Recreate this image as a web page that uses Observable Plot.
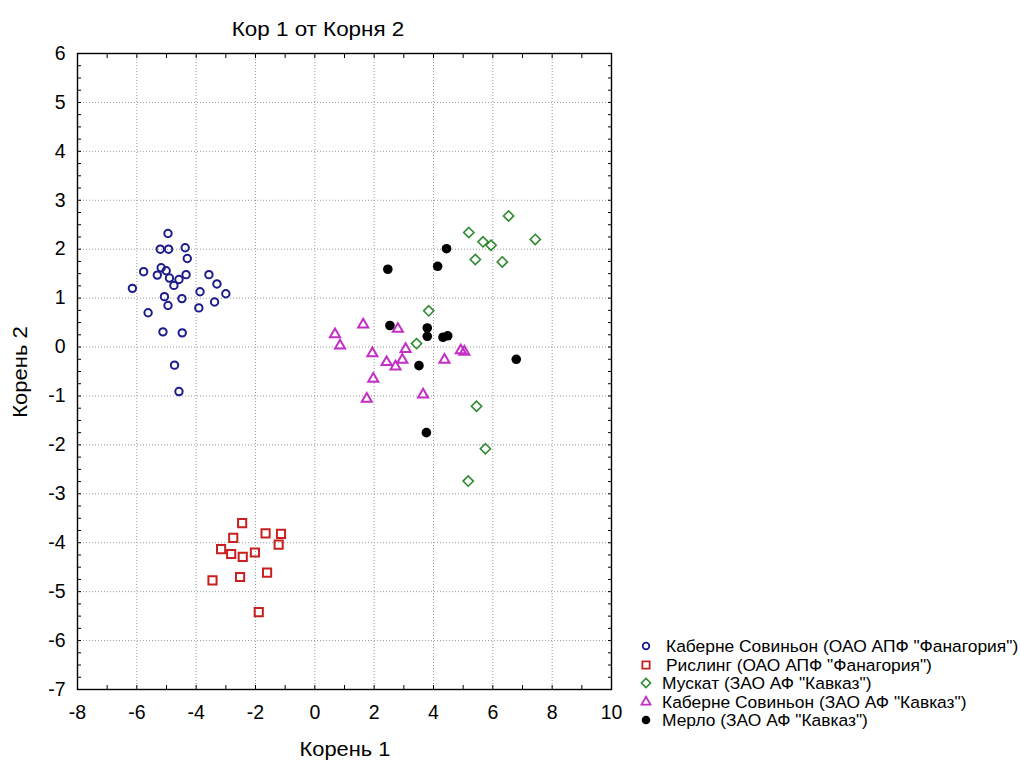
<!DOCTYPE html>
<html>
<head>
<meta charset="utf-8">
<script src="https://cdn.jsdelivr.net/npm/d3@7"></script>
<script src="https://cdn.jsdelivr.net/npm/@observablehq/plot@0.6"></script>
<style>
  body { margin: 0; background: #fff; font-family: "Liberation Sans", Arial, sans-serif; }
  #wrap { position: relative; width: 1020px; height: 760px; overflow: hidden; }
  .lbl { position: absolute; white-space: nowrap; line-height: 1; }
  #title { left: 318px; top: 29px; font-size: 20px; transform: translate(-50%, -50%) scaleX(1.12); }
  #xlabel { left: 345px; top: 749.5px; font-size: 19.5px; transform: translate(-50%, -50%) scaleX(1.12); }
  #ylabel { left: 20px; top: 372px; font-size: 20px; transform: translate(-50%, -50%) rotate(-90deg) scaleX(1.1); }
  #legend { position: absolute; left: 637px; top: 637px; font-size: 17.4px; line-height: 18.5px; }
  #legend div { display: flex; align-items: center; white-space: nowrap; }
  #legend svg { width: 18px; height: 14px; margin-right: 7px; flex: none; }
</style>
</head>
<body>
<div id="wrap">
  <div id="chart"></div>
  <div id="title" class="lbl">Кор 1 от Корня 2</div>
  <div id="xlabel" class="lbl">Корень 1</div>
  <div id="ylabel" class="lbl">Корень 2</div>
  <div id="legend"></div>
</div>
<script>
// Series names
const seriesNames = [
  "Каберне Совиньон (ОАО АПФ \"Фанагория\")",
  "Рислинг (ОАО АПФ \"Фанагория\")",
  "Мускат (ЗАО АФ \"Кавказ\")",
  "Каберне Совиньон (ЗАО АФ \"Кавказ\")",
  "Мерло (ЗАО АФ \"Кавказ\")"
];

// Каберне Совиньон (ОАО АПФ "Фанагория")
const cabFanX = [-4.95,-5.21,-4.93,-4.37,-4.30,-5.77,-5.18,-5.01,-5.31,-4.90,-4.34,-4.58,-4.75,-3.57,-3.30,-6.15,-3.00,-3.87,-3.38,-5.07,-4.48,-4.95,-3.91,-5.62,-5.12,-4.47,-4.73,-4.58];
const cabFanY = [2.32,2.00,2.00,2.03,1.81,1.54,1.62,1.56,1.47,1.41,1.48,1.38,1.26,1.48,1.29,1.20,1.09,1.13,0.92,1.03,0.99,0.85,0.80,0.70,0.31,0.29,-0.37,-0.91];

// Рислинг (ОАО АПФ "Фанагория")
const rieslingX = [-2.45,-2.75,-1.66,-1.14,-1.22,-3.16,-2.82,-2.43,-2.02,-3.45,-2.52,-1.61,-1.89];
const rieslingY = [-3.60,-3.90,-3.81,-3.82,-4.04,-4.13,-4.23,-4.29,-4.20,-4.77,-4.70,-4.61,-5.42];

// Мускат (ЗАО АФ "Кавказ")
const muscatX = [6.53,5.19,5.67,5.94,7.43,5.41,6.32,3.84,3.43,5.45,5.75,5.17];
const muscatY = [2.68,2.34,2.15,2.08,2.20,1.79,1.74,0.74,0.07,-1.21,-2.08,-2.74];

// Каберне Совиньон (ЗАО АФ "Кавказ")
const cabKavX = [0.68,0.85,1.63,2.80,3.06,1.94,2.42,2.95,2.72,1.97,1.75,3.65,4.37,4.92,5.04];
const cabKavY = [0.26,0.03,0.46,0.37,-0.04,-0.13,-0.31,-0.26,-0.40,-0.65,-1.06,-0.97,-0.26,-0.07,-0.10];

// Мерло (ЗАО АФ "Кавказ")
const merlotX = [4.44,2.46,4.14,2.53,3.79,3.79,4.32,4.48,3.51,6.79,3.76];
const merlotY = [2.01,1.59,1.65,0.44,0.39,0.22,0.20,0.23,-0.38,-0.25,-1.75];

// Ticks
const xTicks = [-8,-6,-4,-2,0,2,4,6,8,10];
const yTicks = [-7,-6,-5,-4,-3,-2,-1,0,1,2,3,4,5,6];
const xMinor = d3.range(-8, 10.001, 1);
const yMinor = d3.range(-7, 6.001, 0.25);

const pts = (xs, ys) => xs.map((x, i) => ({x, y: ys[i]}));

const styles = [
  {symbol: "circle", stroke: "#1c1c8a", fill: "none", r: 3.7, strokeWidth: 2},
  {symbol: "square", stroke: "#c8201e", fill: "none", r: 4.6, strokeWidth: 2},
  {symbol: "diamond2", stroke: "#2f8a2f", fill: "none", r: 4.6, strokeWidth: 1.6},
  {symbol: "triangle2", stroke: "#c22fc4", fill: "none", r: 4.8, strokeWidth: 2},
  {symbol: "circle", stroke: "none", fill: "#000000", r: 4.8, strokeWidth: 0}
];
const datasets = [
  pts(cabFanX, cabFanY),
  pts(rieslingX, rieslingY),
  pts(muscatX, muscatY),
  pts(cabKavX, cabKavY),
  pts(merlotX, merlotY)
];

const fontFamily = "Liberation Sans, Arial, sans-serif";
const fmt = d => String(d);

const chart = Plot.plot({
  width: 1020,
  height: 760,
  marginLeft: 77,
  marginRight: 409,
  marginTop: 53,
  marginBottom: 71,
  style: {fontFamily, fontSize: "19.5px", background: "white", color: "black"},
  x: {domain: [-8, 10]},
  y: {domain: [-7, 6]},
  marks: [
    Plot.gridX(xTicks, {stroke: "#9a9a9a", strokeOpacity: 1, strokeDasharray: "1,2"}),
    Plot.gridY(yTicks, {stroke: "#9a9a9a", strokeOpacity: 1, strokeDasharray: "1,2"}),
    Plot.axisX({anchor: "bottom", ticks: xTicks, tickFormat: fmt, tickSize: 0, tickPadding: 16, fontSize: 19.5, label: null}),
    Plot.axisY({anchor: "left", ticks: yTicks, tickFormat: fmt, tickSize: 0, tickPadding: 12, fontSize: 19.5, label: null}),
    Plot.axisX({anchor: "bottom", ticks: xMinor, tickSize: -4, text: null, label: null}),
    Plot.axisX({anchor: "top", ticks: xMinor, tickSize: -4, text: null, label: null}),
    Plot.axisY({anchor: "left", ticks: yMinor, tickSize: -4, text: null, label: null}),
    Plot.axisY({anchor: "right", ticks: yMinor, tickSize: -4, text: null, label: null}),
    Plot.frame({stroke: "black", strokeWidth: 1.4}),
    ...datasets.map((d, i) => Plot.dot(d, {x: "x", y: "y", ...styles[i]}))
  ]
});
document.getElementById("chart").appendChild(chart);

// Legend
const legend = document.getElementById("legend");
seriesNames.forEach((name, i) => {
  const s = styles[i];
  const row = document.createElement("div");
  const sym = d3.symbol(
    {circle: d3.symbolCircle, square: d3.symbolSquare, diamond2: d3.symbolDiamond2, triangle2: d3.symbolTriangle2}[s.symbol],
    Math.PI * s.r * s.r * 0.8
  )();
  const indent = i < 2 ? 4 : 0;
  row.innerHTML = `<svg viewBox="-9 -7 18 14"><path d="${sym}" fill="${s.fill}" stroke="${s.stroke}" stroke-width="${Math.min(s.strokeWidth,1.8)}"/></svg><span style="padding-left:${indent}px">${name}</span>`;
  legend.appendChild(row);
});
</script>
</body>
</html>
